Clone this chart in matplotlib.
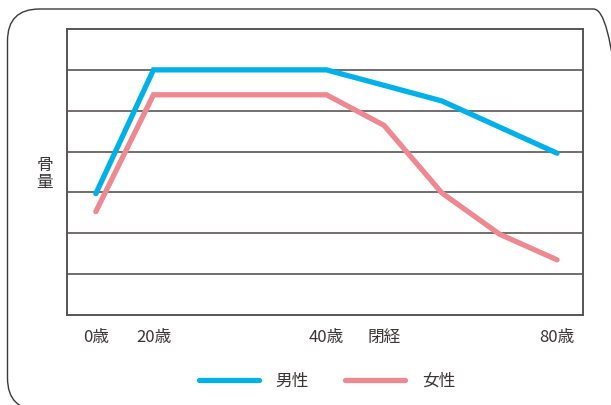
import matplotlib.pyplot as plt
from matplotlib.patches import FancyBboxPatch

plt.rcParams['font.family'] = ['Noto Sans CJK JP', 'DejaVu Sans']

# 横軸の位置（目盛り単位）
tick_pos = [0, 1, 4, 5, 8]
tick_labels = ['0歳', '20歳', '40歳', '閉経', '80歳']

# 男性
male_x = [0, 1, 4, 6, 8]
male_y = [2.97, 6.0, 6.0, 5.24, 3.96]
# 女性
female_x = [0, 1, 4, 5, 6, 7, 8]
female_y = [2.53, 5.39, 5.39, 4.64, 2.99, 1.98, 1.35]

blue = '#00b1e9'
pink = '#ee8891'
grid_c = '#5a5555'
text_c = '#3a3535'

fig = plt.figure(figsize=(6.11, 4.05), dpi=100)

# 外枠（角丸）、単位はインチ、右と下ははみ出す
box = FancyBboxPatch((0.075, -0.05), 6.18, 4.01,
                     boxstyle='round,pad=0,rounding_size=0.32',
                     transform=fig.dpi_scale_trans, fill=False,
                     edgecolor='#3a3a3a', linewidth=1.0)
fig.patches.append(box)

ax = fig.add_axes([67/611, 1 - 315/405, (583 - 67)/611, (315 - 29)/405])
for y in range(1, 7):
    ax.axhline(y, color=grid_c, linewidth=1.2, zorder=1)
for s in ax.spines.values():
    s.set_color(grid_c)
    s.set_linewidth(1.4)

ax.plot(male_x, male_y, color=blue, linewidth=3.8, solid_capstyle='round',
        solid_joinstyle='miter', label='男性', zorder=3)
ax.plot(female_x, female_y, color=pink, linewidth=3.8, solid_capstyle='round',
        solid_joinstyle='miter', label='女性', zorder=2)

ax.set_xlim(-0.5, 8.45)
ax.set_ylim(0, 7)
ax.set_yticks([])
ax.set_xticks(tick_pos)
ax.set_xticklabels(tick_labels, fontsize=12, color=text_c)
ax.tick_params(axis='x', length=0, pad=10)

fig.text(45/611, 1 - 174/405, '骨\n量', fontsize=12, color=text_c,
         ha='center', va='center', linespacing=1.0)

leg = fig.legend(loc='center', bbox_to_anchor=(0.535, 1 - 381/405), ncol=2,
                 frameon=False, fontsize=12, handlelength=3.6,
                 handletextpad=1.0, columnspacing=2.2)
for t in leg.get_texts():
    t.set_color(text_c)

fig.savefig('out.png', dpi=100)
